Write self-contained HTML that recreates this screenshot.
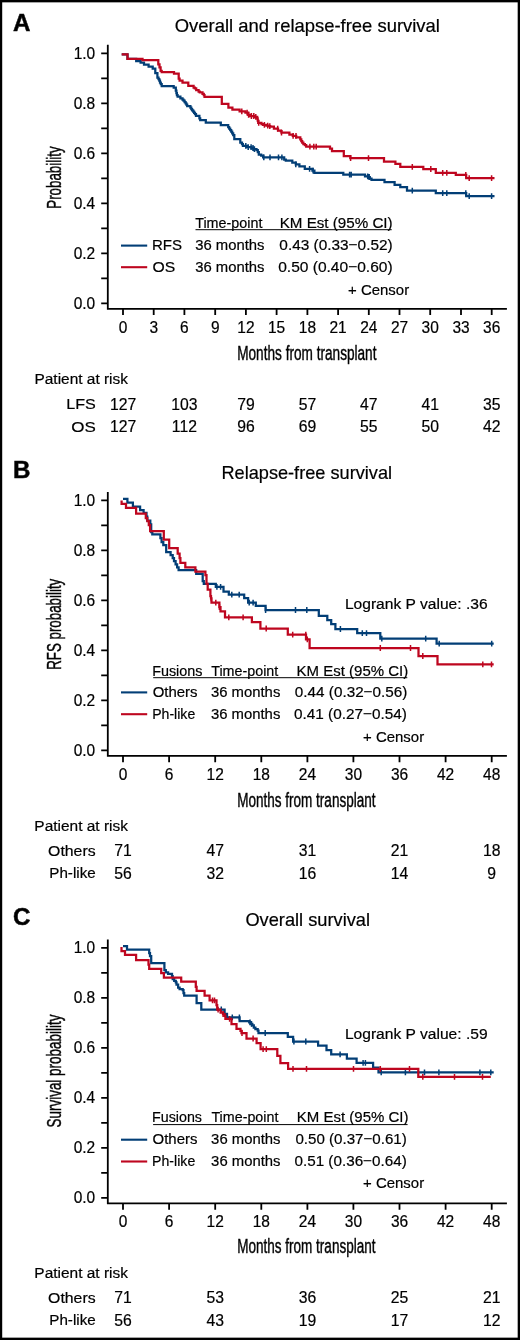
<!DOCTYPE html>
<html><head><meta charset="utf-8"><style>
html,body{margin:0;padding:0;background:#fff;}
body{width:520px;height:1340px;overflow:hidden;}
svg{display:block;font-family:"Liberation Sans", sans-serif;will-change:transform;}
</style></head><body>
<svg width="520" height="1340" viewBox="0 0 520 1340" font-size="15" fill="#000" stroke="#000" stroke-width="0.2">
<rect x="0" y="0" width="520" height="1340" fill="#fff" stroke="none"/>
<text font-size="23" font-weight="bold" stroke="#111" stroke-width="0.5" transform="translate(13 30.7) scale(1.05 1)">A</text>
<text x="174.77" y="31.50" font-size="18.4" textLength="265.13" lengthAdjust="spacingAndGlyphs" >Overall and relapse-free survival</text>
<path d="M107.8 44.8 V309.7 M107 308.8 H506.9" stroke="#000" stroke-width="1.8" fill="none"/>
<path d="M101.2 303.3H107.8 M101.2 278.3H107.8 M101.2 253.3H107.8 M101.2 228.3H107.8 M101.2 203.3H107.8 M101.2 178.3H107.8 M101.2 153.3H107.8 M101.2 128.3H107.8 M101.2 103.3H107.8 M101.2 78.3H107.8 M101.2 53.3H107.8" stroke="#000" stroke-width="1.8" fill="none"/>
<text transform="translate(95.2 308.6) scale(0.975 1)" font-size="15.9" text-anchor="end">0.0</text>
<text transform="translate(95.2 258.6) scale(0.975 1)" font-size="15.9" text-anchor="end">0.2</text>
<text transform="translate(95.2 208.6) scale(0.975 1)" font-size="15.9" text-anchor="end">0.4</text>
<text transform="translate(95.2 158.6) scale(0.975 1)" font-size="15.9" text-anchor="end">0.6</text>
<text transform="translate(95.2 108.6) scale(0.975 1)" font-size="15.9" text-anchor="end">0.8</text>
<text transform="translate(95.2 58.6) scale(0.975 1)" font-size="15.9" text-anchor="end">1.0</text>
<text transform="translate(123.0 332.6) scale(0.975 1)" font-size="15.9" text-anchor="middle">0</text>
<text transform="translate(153.7 332.6) scale(0.975 1)" font-size="15.9" text-anchor="middle">3</text>
<text transform="translate(184.4 332.6) scale(0.975 1)" font-size="15.9" text-anchor="middle">6</text>
<text transform="translate(215.2 332.6) scale(0.975 1)" font-size="15.9" text-anchor="middle">9</text>
<text transform="translate(245.9 332.6) scale(0.975 1)" font-size="15.9" text-anchor="middle">12</text>
<text transform="translate(276.6 332.6) scale(0.975 1)" font-size="15.9" text-anchor="middle">15</text>
<text transform="translate(307.4 332.6) scale(0.975 1)" font-size="15.9" text-anchor="middle">18</text>
<text transform="translate(338.1 332.6) scale(0.975 1)" font-size="15.9" text-anchor="middle">21</text>
<text transform="translate(368.8 332.6) scale(0.975 1)" font-size="15.9" text-anchor="middle">24</text>
<text transform="translate(399.5 332.6) scale(0.975 1)" font-size="15.9" text-anchor="middle">27</text>
<text transform="translate(430.2 332.6) scale(0.975 1)" font-size="15.9" text-anchor="middle">30</text>
<text transform="translate(461.0 332.6) scale(0.975 1)" font-size="15.9" text-anchor="middle">33</text>
<text transform="translate(491.7 332.6) scale(0.975 1)" font-size="15.9" text-anchor="middle">36</text>
<path d="M123.0 308.8V315.1 M153.7 308.8V315.1 M184.4 308.8V315.1 M215.2 308.8V315.1 M245.9 308.8V315.1 M276.6 308.8V315.1 M307.4 308.8V315.1 M338.1 308.8V315.1 M368.8 308.8V315.1 M399.5 308.8V315.1 M430.2 308.8V315.1 M461.0 308.8V315.1 M491.7 308.8V315.1" stroke="#000" stroke-width="1.8" fill="none"/>
<text x="237.21" y="359.50" font-size="19.5" textLength="139.28" lengthAdjust="spacingAndGlyphs" stroke="#111" stroke-width="0.45">Months from transplant</text>
<g transform="translate(60.9 207.7) rotate(-90)"><text x="-1.07" y="0.00" font-size="19.5" textLength="62.32" lengthAdjust="spacingAndGlyphs" stroke="#111" stroke-width="0.45">Probability</text></g>
<text x="195.21" y="227.50" font-size="15.2" textLength="67.18" lengthAdjust="spacingAndGlyphs" >Time-point</text>
<text x="279.69" y="227.50" font-size="15.2" textLength="112.94" lengthAdjust="spacingAndGlyphs" >KM Est (95% CI)</text>
<path d="M195.5 229.7H391.7" stroke="#000" stroke-width="1" fill="none"/>
<path d="M121 245.6H147.2" stroke="#023e76" stroke-width="2.1" fill="none"/>
<text x="152.00" y="249.90" font-size="15.2" textLength="30.08" lengthAdjust="spacingAndGlyphs" >RFS</text>
<text x="195.21" y="249.90" font-size="15.2" textLength="69.31" lengthAdjust="spacingAndGlyphs" >36 months</text>
<text x="279.38" y="249.90" font-size="15.2" textLength="113.27" lengthAdjust="spacingAndGlyphs" >0.43 (0.33−0.52)</text>
<path d="M121 267.2H147.2" stroke="#be061f" stroke-width="2.1" fill="none"/>
<text x="152.49" y="271.60" font-size="15.2" textLength="22.71" lengthAdjust="spacingAndGlyphs" >OS</text>
<text x="195.21" y="271.60" font-size="15.2" textLength="69.31" lengthAdjust="spacingAndGlyphs" >36 months</text>
<text x="278.18" y="271.60" font-size="15.2" textLength="114.48" lengthAdjust="spacingAndGlyphs" >0.50 (0.40−0.60)</text>
<text x="348.05" y="294.60" font-size="15.2" textLength="61.08" lengthAdjust="spacingAndGlyphs" >+ Censor</text>
<text x="34.47" y="384.30" font-size="15.2" textLength="93.51" lengthAdjust="spacingAndGlyphs" >Patient at risk</text>
<text x="66.21" y="409.20" font-size="15.2" textLength="29.58" lengthAdjust="spacingAndGlyphs" >LFS</text>
<text transform="translate(123.0 409.7) scale(0.99 1)" text-anchor="middle" font-size="15.9">127</text>
<text transform="translate(184.4 409.7) scale(0.99 1)" text-anchor="middle" font-size="15.9">103</text>
<text transform="translate(245.9 409.7) scale(0.99 1)" text-anchor="middle" font-size="15.9">79</text>
<text transform="translate(307.4 409.7) scale(0.99 1)" text-anchor="middle" font-size="15.9">57</text>
<text transform="translate(368.8 409.7) scale(0.99 1)" text-anchor="middle" font-size="15.9">47</text>
<text transform="translate(430.2 409.7) scale(0.99 1)" text-anchor="middle" font-size="15.9">41</text>
<text transform="translate(491.7 409.7) scale(0.99 1)" text-anchor="middle" font-size="15.9">35</text>
<text x="71.24" y="431.60" font-size="15.2" textLength="24.53" lengthAdjust="spacingAndGlyphs" >OS</text>
<text transform="translate(123.0 432.1) scale(0.99 1)" text-anchor="middle" font-size="15.9">127</text>
<text transform="translate(184.4 432.1) scale(0.99 1)" text-anchor="middle" font-size="15.9">112</text>
<text transform="translate(245.9 432.1) scale(0.99 1)" text-anchor="middle" font-size="15.9">96</text>
<text transform="translate(307.4 432.1) scale(0.99 1)" text-anchor="middle" font-size="15.9">69</text>
<text transform="translate(368.8 432.1) scale(0.99 1)" text-anchor="middle" font-size="15.9">55</text>
<text transform="translate(430.2 432.1) scale(0.99 1)" text-anchor="middle" font-size="15.9">50</text>
<text transform="translate(491.7 432.1) scale(0.99 1)" text-anchor="middle" font-size="15.9">42</text>
<path d="M121.7 54.3 H127.5 V58.9 H136.2 V61 H140.6 V62.7 H144 V64.6 H148.6 V66.5 H152.7 V68.6 H155.3 V73.2 H157.4 V77.7 H158.5 V79 H159.3 V80.6 H160 V82.7 H160.8 V84 H161.7 V86.2 H173.7 V87.5 H175.8 V90.5 H176.4 V93 H176.9 V95.2 H177.6 V96.5 H180.4 V98.3 H182.5 V99.7 H183.5 V100.6 H184.6 V102 H185.6 V103.3 H186.4 V104.7 H187.2 V106.2 H190.4 V107.7 H191.3 V109 H192.1 V110.4 H193.2 V111.6 H194.1 V112.8 H195 V114.2 H196 V115.8 H199.4 V118.4 H200.2 V120 H205.8 V122.5 H220.8 V125.2 H228.2 V127.1 H229.2 V128.6 H230.2 V130 H231.2 V131.6 H232.2 V133.4 H233.2 V135 H234.3 V139.2 H240.3 V142.5 H242 V144 H242.9 V145.9 H247 V147.2 H251.5 V148 H253.5 V149.2 H256.5 V150 H257.8 V152.1 H258.8 V154.5 H261.2 V155.6 H263.1 V157.3 H284.2 V159.6 H285.8 V160.6 H292.3 V162.7 H295.8 V164.3 H299.4 V166.3 H304.8 V168.8 H312.4 V170.6 H314.4 V172.9 H343.3 V174.6 H365 V176.3 H368.1 V177 H369.8 V178.7 H371.5 V179.8 H384.5 V182 H394.6 V184.9 H400.3 V187.2 H407 V190.6 H435.8 V193.1 H466.2 V196.2 H494.5" fill="none" stroke="#023e76" stroke-width="2.25" stroke-linejoin="miter" stroke-linecap="butt"/>
<path d="M245.8 143.0v5.8 M248.2 144.3v5.8 M251.1 144.3v5.8 M253.0 145.1v5.8 M254.4 146.3v5.8 M263.8 154.4v5.8 M270.0 154.4v5.8 M278.5 154.4v5.8 M281.9 154.4v5.8 M295.8 161.4v5.8 M309.6 165.9v5.8 M313.1 167.7v5.8 M349.6 171.7v5.8 M351.2 171.7v5.8 M367.7 173.4v5.8 M369.2 174.1v5.8 M412.3 187.7v5.8 M442.7 190.2v5.8 M446.8 190.2v5.8 M465.8 190.2v5.8 M469.2 193.3v5.8 M491.6 193.3v5.8" stroke="#023e76" stroke-width="1.5" fill="none"/>

<path d="M121.7 54.3 H127.5 V58.9 H142.5 V60 H158.3 V64.3 H159.5 V67.3 H160.6 V70.8 H161.7 V72.1 H174 V73.5 H178.7 V78.5 H179.6 V80.7 H182.5 V82.7 H188.3 V85.8 H193.6 V87.5 H194.8 V88.3 H196.2 V90 H198.6 V91.5 H199.8 V92.3 H202.5 V93.8 H203.8 V95.2 H204.5 V96.9 H221.8 V103.8 H228.4 V107.7 H232.4 V109.6 H239.6 V111.3 H245.4 V112.6 H248.3 V114.9 H250 V116 H254.8 V116.8 H257.2 V118.3 H257.7 V120.7 H258.2 V122.8 H261.5 V124.2 H263 V124.8 H266.3 V125.6 H268.3 V126.1 H270.2 V126.5 H273.9 V128.7 H278 V130.7 H280.8 V131.2 H281.5 V132.6 H289.4 V134.5 H292.8 V135.9 H296.2 V137.4 H300.3 V139.3 H301.3 V141.2 H302.2 V142.7 H303.4 V144.1 H304.9 V145.2 H306.2 V146.6 H330 V148.6 H332 V151 H343.8 V156.2 H350.3 V158.1 H384 V161.6 H395.4 V163.8 H400.3 V166.9 H423.3 V169 H435.8 V172.8 H455.8 V174.9 H466.2 V178.2 H494.5" fill="none" stroke="#be061f" stroke-width="2.25" stroke-linejoin="miter" stroke-linecap="butt"/>
<path d="M241.8 108.4v5.8 M247.1 109.7v5.8 M248.6 112.0v5.8 M251.4 113.1v5.8 M253.8 113.1v5.8 M255.8 113.9v5.8 M258.7 119.9v5.8 M264.4 121.9v5.8 M267.7 122.7v5.8 M269.8 123.2v5.8 M277.7 125.8v5.8 M281.5 129.7v5.8 M293.1 133.0v5.8 M296.0 133.0v5.8 M309.9 143.7v5.8 M313.8 143.7v5.8 M316.2 143.7v5.8 M350.6 155.2v5.8 M368.5 155.2v5.8 M412.3 164.0v5.8 M430.8 166.1v5.8 M442.7 169.9v5.8 M446.8 169.9v5.8 M465.8 172.0v5.8 M469.2 175.3v5.8 M491.6 175.3v5.8" stroke="#be061f" stroke-width="1.5" fill="none"/>

<text font-size="23" font-weight="bold" stroke="#111" stroke-width="0.5" transform="translate(13 477.8) scale(1.05 1)">B</text>
<text x="221.45" y="478.50" font-size="18.4" textLength="170.59" lengthAdjust="spacingAndGlyphs" >Relapse-free survival</text>
<path d="M107.8 491.9 V756.8 M107 755.9 H506.9" stroke="#000" stroke-width="1.8" fill="none"/>
<path d="M101.2 750.4H107.8 M101.2 725.4H107.8 M101.2 700.4H107.8 M101.2 675.4H107.8 M101.2 650.4H107.8 M101.2 625.4H107.8 M101.2 600.4H107.8 M101.2 575.4H107.8 M101.2 550.4H107.8 M101.2 525.4H107.8 M101.2 500.4H107.8" stroke="#000" stroke-width="1.8" fill="none"/>
<text transform="translate(95.2 755.7) scale(0.975 1)" font-size="15.9" text-anchor="end">0.0</text>
<text transform="translate(95.2 705.7) scale(0.975 1)" font-size="15.9" text-anchor="end">0.2</text>
<text transform="translate(95.2 655.7) scale(0.975 1)" font-size="15.9" text-anchor="end">0.4</text>
<text transform="translate(95.2 605.7) scale(0.975 1)" font-size="15.9" text-anchor="end">0.6</text>
<text transform="translate(95.2 555.7) scale(0.975 1)" font-size="15.9" text-anchor="end">0.8</text>
<text transform="translate(95.2 505.7) scale(0.975 1)" font-size="15.9" text-anchor="end">1.0</text>
<text transform="translate(123.0 779.7) scale(0.975 1)" font-size="15.9" text-anchor="middle">0</text>
<text transform="translate(169.1 779.7) scale(0.975 1)" font-size="15.9" text-anchor="middle">6</text>
<text transform="translate(215.2 779.7) scale(0.975 1)" font-size="15.9" text-anchor="middle">12</text>
<text transform="translate(261.3 779.7) scale(0.975 1)" font-size="15.9" text-anchor="middle">18</text>
<text transform="translate(307.4 779.7) scale(0.975 1)" font-size="15.9" text-anchor="middle">24</text>
<text transform="translate(353.4 779.7) scale(0.975 1)" font-size="15.9" text-anchor="middle">30</text>
<text transform="translate(399.5 779.7) scale(0.975 1)" font-size="15.9" text-anchor="middle">36</text>
<text transform="translate(445.6 779.7) scale(0.975 1)" font-size="15.9" text-anchor="middle">42</text>
<text transform="translate(491.7 779.7) scale(0.975 1)" font-size="15.9" text-anchor="middle">48</text>
<path d="M123.0 755.9V762.2 M169.1 755.9V762.2 M215.2 755.9V762.2 M261.3 755.9V762.2 M307.4 755.9V762.2 M353.4 755.9V762.2 M399.5 755.9V762.2 M445.6 755.9V762.2 M491.7 755.9V762.2" stroke="#000" stroke-width="1.8" fill="none"/>
<text x="237.22" y="806.80" font-size="19.5" textLength="138.27" lengthAdjust="spacingAndGlyphs" stroke="#111" stroke-width="0.45">Months from transplant</text>
<g transform="translate(61.3 668.8) rotate(-90)"><text x="-1.07" y="0.00" font-size="19.5" textLength="91.15" lengthAdjust="spacingAndGlyphs" stroke="#111" stroke-width="0.45">RFS probability</text></g>
<text x="152.15" y="675.50" font-size="15.2" textLength="50.38" lengthAdjust="spacingAndGlyphs" >Fusions</text>
<text x="211.21" y="675.50" font-size="15.2" textLength="67.08" lengthAdjust="spacingAndGlyphs" >Time-point</text>
<text x="296.60" y="675.50" font-size="15.2" textLength="111.61" lengthAdjust="spacingAndGlyphs" >KM Est (95% CI)</text>
<path d="M153.2 677.7H407.3" stroke="#000" stroke-width="1" fill="none"/>
<path d="M121 692.4H147.2" stroke="#023e76" stroke-width="2.1" fill="none"/>
<text x="152.63" y="696.80" font-size="15.2" textLength="44.91" lengthAdjust="spacingAndGlyphs" >Others</text>
<text x="210.91" y="696.80" font-size="15.2" textLength="69.41" lengthAdjust="spacingAndGlyphs" >36 months</text>
<text x="294.89" y="696.80" font-size="15.2" textLength="112.46" lengthAdjust="spacingAndGlyphs" >0.44 (0.32−0.56)</text>
<path d="M121 714.2H147.2" stroke="#be061f" stroke-width="2.1" fill="none"/>
<text x="152.17" y="718.60" font-size="15.2" textLength="43.09" lengthAdjust="spacingAndGlyphs" >Ph-like</text>
<text x="210.91" y="718.60" font-size="15.2" textLength="69.41" lengthAdjust="spacingAndGlyphs" >36 months</text>
<text x="293.99" y="718.60" font-size="15.2" textLength="112.96" lengthAdjust="spacingAndGlyphs" >0.41 (0.27−0.54)</text>
<text x="363.05" y="741.50" font-size="15.2" textLength="61.08" lengthAdjust="spacingAndGlyphs" >+ Censor</text>
<text x="344.95" y="608.60" font-size="15.2" textLength="142.65" lengthAdjust="spacingAndGlyphs" >Logrank P value: .36</text>
<text x="34.36" y="831.30" font-size="15.2" textLength="93.61" lengthAdjust="spacingAndGlyphs" >Patient at risk</text>
<text x="48.09" y="855.80" font-size="15.2" textLength="47.48" lengthAdjust="spacingAndGlyphs" >Others</text>
<text transform="translate(123.0 856.3) scale(0.99 1)" text-anchor="middle" font-size="15.9">71</text>
<text transform="translate(215.2 856.3) scale(0.99 1)" text-anchor="middle" font-size="15.9">47</text>
<text transform="translate(307.4 856.3) scale(0.99 1)" text-anchor="middle" font-size="15.9">31</text>
<text transform="translate(399.5 856.3) scale(0.99 1)" text-anchor="middle" font-size="15.9">21</text>
<text transform="translate(491.7 856.3) scale(0.99 1)" text-anchor="middle" font-size="15.9">18</text>
<text x="49.28" y="878.20" font-size="15.2" textLength="46.43" lengthAdjust="spacingAndGlyphs" >Ph-like</text>
<text transform="translate(123.0 878.7) scale(0.99 1)" text-anchor="middle" font-size="15.9">56</text>
<text transform="translate(215.2 878.7) scale(0.99 1)" text-anchor="middle" font-size="15.9">32</text>
<text transform="translate(307.4 878.7) scale(0.99 1)" text-anchor="middle" font-size="15.9">16</text>
<text transform="translate(399.5 878.7) scale(0.99 1)" text-anchor="middle" font-size="15.9">14</text>
<text transform="translate(491.7 878.7) scale(0.99 1)" text-anchor="middle" font-size="15.9">9</text>
<path d="M123 498.9 H127.4 V502.7 H132.9 V506.7 H140.1 V510.2 H143.6 V512.8 H146.5 V516.5 H147.3 V520.5 H150.3 V524.3 H151.2 V532 H152.3 V534.3 H160.4 V538.2 H161.6 V542 H163.3 V545 H166.2 V552 H170.6 V555 H172.7 V558.2 H174 V561.2 H175.6 V564.3 H177.1 V567.4 H178.6 V570 H196.2 V573.8 H202.7 V581.2 H203.8 V583.8 H215.8 V586.9 H223.5 V591.5 H228.8 V594.6 H244.2 V598.1 H248.1 V602.7 H255.8 V605.8 H265.6 V610 H318.8 V615.8 H327.3 V620 H331.2 V624.2 H335.4 V629 H357.2 V633.1 H380.3 V638.7 H436.6 V643.6 H493.7" fill="none" stroke="#023e76" stroke-width="2.25" stroke-linejoin="miter" stroke-linecap="butt"/>
<path d="M216.9 584.0v5.8 M220.6 584.0v5.8 M231.8 591.7v5.8 M239.2 591.7v5.8 M249.2 599.8v5.8 M253.1 599.8v5.8 M265.6 607.1v5.8 M295.5 607.1v5.8 M306.8 607.1v5.8 M340.4 626.1v5.8 M362.3 630.2v5.8 M366.5 630.2v5.8 M381.8 635.8v5.8 M425.7 635.8v5.8 M439.2 640.7v5.8 M491.7 640.7v5.8" stroke="#023e76" stroke-width="1.5" fill="none"/>

<path d="M121.6 500.4 V503.8 H126 V507.9 H136.1 V513.6 H145.8 V518.2 H147.3 V521.2 H148.8 V525 H150.1 V531.2 H163.8 V539.7 H169.2 V548.2 H177.7 V553.5 H179.6 V558.2 H180.4 V562.8 H185.3 V567.3 H195.4 V571.5 H205.4 V575 H206.5 V583.8 H207.7 V589.6 H210.4 V596 H211 V598.3 H211.5 V602.7 H219.4 V607 H220.5 V611.3 H225 V617.3 H251.9 V622 H260.4 V628.5 H287.8 V634.6 H306 V639.4 H309.6 V648 H418.5 V656 H437.5 V664.3 H493.7" fill="none" stroke="#be061f" stroke-width="2.25" stroke-linejoin="miter" stroke-linecap="butt"/>
<path d="M211.2 595.4v5.8 M215.8 599.8v5.8 M219.4 604.1v5.8 M228.8 614.4v5.8 M243.1 614.4v5.8 M266.2 625.6v5.8 M292.7 631.7v5.8 M305.8 631.7v5.8 M307.3 636.5v5.8 M380.3 645.1v5.8 M410.5 645.1v5.8 M422.8 653.1v5.8 M482.8 661.4v5.8 M491.5 661.4v5.8" stroke="#be061f" stroke-width="1.5" fill="none"/>

<text font-size="23" font-weight="bold" stroke="#111" stroke-width="0.5" transform="translate(13 925.3) scale(1.05 1)">C</text>
<text x="245.38" y="925.80" font-size="18.4" textLength="124.61" lengthAdjust="spacingAndGlyphs" >Overall survival</text>
<path d="M107.8 939.4 V1204.3 M107 1203.4 H506.9" stroke="#000" stroke-width="1.8" fill="none"/>
<path d="M101.2 1197.9H107.8 M101.2 1172.9H107.8 M101.2 1147.9H107.8 M101.2 1122.9H107.8 M101.2 1097.9H107.8 M101.2 1072.9H107.8 M101.2 1047.9H107.8 M101.2 1022.9H107.8 M101.2 997.9H107.8 M101.2 972.9H107.8 M101.2 947.9H107.8" stroke="#000" stroke-width="1.8" fill="none"/>
<text transform="translate(95.2 1203.2) scale(0.975 1)" font-size="15.9" text-anchor="end">0.0</text>
<text transform="translate(95.2 1153.2) scale(0.975 1)" font-size="15.9" text-anchor="end">0.2</text>
<text transform="translate(95.2 1103.2) scale(0.975 1)" font-size="15.9" text-anchor="end">0.4</text>
<text transform="translate(95.2 1053.2) scale(0.975 1)" font-size="15.9" text-anchor="end">0.6</text>
<text transform="translate(95.2 1003.2) scale(0.975 1)" font-size="15.9" text-anchor="end">0.8</text>
<text transform="translate(95.2 953.2) scale(0.975 1)" font-size="15.9" text-anchor="end">1.0</text>
<text transform="translate(123.0 1227.2) scale(0.975 1)" font-size="15.9" text-anchor="middle">0</text>
<text transform="translate(169.1 1227.2) scale(0.975 1)" font-size="15.9" text-anchor="middle">6</text>
<text transform="translate(215.2 1227.2) scale(0.975 1)" font-size="15.9" text-anchor="middle">12</text>
<text transform="translate(261.3 1227.2) scale(0.975 1)" font-size="15.9" text-anchor="middle">18</text>
<text transform="translate(307.4 1227.2) scale(0.975 1)" font-size="15.9" text-anchor="middle">24</text>
<text transform="translate(353.4 1227.2) scale(0.975 1)" font-size="15.9" text-anchor="middle">30</text>
<text transform="translate(399.5 1227.2) scale(0.975 1)" font-size="15.9" text-anchor="middle">36</text>
<text transform="translate(445.6 1227.2) scale(0.975 1)" font-size="15.9" text-anchor="middle">42</text>
<text transform="translate(491.7 1227.2) scale(0.975 1)" font-size="15.9" text-anchor="middle">48</text>
<path d="M123.0 1203.4V1209.7 M169.1 1203.4V1209.7 M215.2 1203.4V1209.7 M261.3 1203.4V1209.7 M307.4 1203.4V1209.7 M353.4 1203.4V1209.7 M399.5 1203.4V1209.7 M445.6 1203.4V1209.7 M491.7 1203.4V1209.7" stroke="#000" stroke-width="1.8" fill="none"/>
<text x="237.22" y="1253.30" font-size="19.5" textLength="138.27" lengthAdjust="spacingAndGlyphs" stroke="#111" stroke-width="0.45">Months from transplant</text>
<g transform="translate(61.2 1126.9) rotate(-90)"><text x="-0.61" y="0.00" font-size="19.5" textLength="112.94" lengthAdjust="spacingAndGlyphs" stroke="#111" stroke-width="0.45">Survival probability</text></g>
<text x="152.06" y="1122.40" font-size="15.2" textLength="49.96" lengthAdjust="spacingAndGlyphs" >Fusions</text>
<text x="211.41" y="1122.40" font-size="15.2" textLength="66.98" lengthAdjust="spacingAndGlyphs" >Time-point</text>
<text x="296.80" y="1122.40" font-size="15.2" textLength="111.71" lengthAdjust="spacingAndGlyphs" >KM Est (95% CI)</text>
<path d="M153.1 1124.6H407.6" stroke="#000" stroke-width="1" fill="none"/>
<path d="M121 1139.7H147.2" stroke="#023e76" stroke-width="2.1" fill="none"/>
<text x="152.53" y="1144.00" font-size="15.2" textLength="44.91" lengthAdjust="spacingAndGlyphs" >Others</text>
<text x="211.11" y="1144.00" font-size="15.2" textLength="69.41" lengthAdjust="spacingAndGlyphs" >36 months</text>
<text x="295.40" y="1144.00" font-size="15.2" textLength="111.34" lengthAdjust="spacingAndGlyphs" >0.50 (0.37−0.61)</text>
<path d="M121 1161.5H147.2" stroke="#be061f" stroke-width="2.1" fill="none"/>
<text x="152.07" y="1165.80" font-size="15.2" textLength="43.19" lengthAdjust="spacingAndGlyphs" >Ph-like</text>
<text x="211.11" y="1165.80" font-size="15.2" textLength="69.41" lengthAdjust="spacingAndGlyphs" >36 months</text>
<text x="294.49" y="1165.80" font-size="15.2" textLength="112.25" lengthAdjust="spacingAndGlyphs" >0.51 (0.36−0.64)</text>
<text x="363.05" y="1188.40" font-size="15.2" textLength="61.08" lengthAdjust="spacingAndGlyphs" >+ Censor</text>
<text x="344.95" y="1038.50" font-size="15.2" textLength="142.65" lengthAdjust="spacingAndGlyphs" >Logrank P value: .59</text>
<text x="34.36" y="1278.30" font-size="15.2" textLength="93.61" lengthAdjust="spacingAndGlyphs" >Patient at risk</text>
<text x="48.09" y="1302.90" font-size="15.2" textLength="47.48" lengthAdjust="spacingAndGlyphs" >Others</text>
<text transform="translate(123.0 1303.4) scale(0.99 1)" text-anchor="middle" font-size="15.9">71</text>
<text transform="translate(215.2 1303.4) scale(0.99 1)" text-anchor="middle" font-size="15.9">53</text>
<text transform="translate(307.4 1303.4) scale(0.99 1)" text-anchor="middle" font-size="15.9">36</text>
<text transform="translate(399.5 1303.4) scale(0.99 1)" text-anchor="middle" font-size="15.9">25</text>
<text transform="translate(491.7 1303.4) scale(0.99 1)" text-anchor="middle" font-size="15.9">21</text>
<text x="49.28" y="1325.00" font-size="15.2" textLength="46.43" lengthAdjust="spacingAndGlyphs" >Ph-like</text>
<text transform="translate(123.0 1325.5) scale(0.99 1)" text-anchor="middle" font-size="15.9">56</text>
<text transform="translate(215.2 1325.5) scale(0.99 1)" text-anchor="middle" font-size="15.9">43</text>
<text transform="translate(307.4 1325.5) scale(0.99 1)" text-anchor="middle" font-size="15.9">19</text>
<text transform="translate(399.5 1325.5) scale(0.99 1)" text-anchor="middle" font-size="15.9">17</text>
<text transform="translate(491.7 1325.5) scale(0.99 1)" text-anchor="middle" font-size="15.9">12</text>
<path d="M123 946.2 H127 V949.5 H149.2 V953.1 H150 V956 H151.2 V963.1 H164.4 V970 H165.8 V972.3 H168.1 V973.8 H172 V976.2 H172.7 V979.2 H174.2 V980.8 H175.8 V982.3 H176.5 V984.6 H178.1 V987.7 H179.6 V989.2 H182.7 V990.2 H183.5 V993.1 H184.2 V995.5 H196.6 V1003.1 H201.3 V1009.5 H224.6 V1013.8 H227 V1017.3 H239.6 V1021 H249.2 V1022.3 H250.8 V1023.8 H252.3 V1025.4 H253.8 V1027.7 H255.4 V1029.2 H257.7 V1030.5 H258.5 V1033 H287.8 V1036.9 H293.1 V1041.5 H318.1 V1045.7 H326.5 V1050 H331.2 V1054.4 H346.9 V1058.5 H356.6 V1062.8 H373.1 V1067.7 H378.5 V1072.4 H493.7" fill="none" stroke="#023e76" stroke-width="2.25" stroke-linejoin="miter" stroke-linecap="butt"/>
<path d="M221.3 1006.6v5.8 M232.3 1014.4v5.8 M239.4 1014.4v5.8 M250.0 1019.4v5.8 M251.5 1020.9v5.8 M265.2 1030.1v5.8 M293.9 1038.6v5.8 M305.8 1038.6v5.8 M340.1 1051.5v5.8 M363.1 1059.9v5.8 M365.4 1059.9v5.8 M381.2 1069.5v5.8 M405.4 1069.5v5.8 M424.5 1069.5v5.8 M438.9 1069.5v5.8 M479.9 1069.5v5.8 M490.8 1069.5v5.8" stroke="#023e76" stroke-width="1.5" fill="none"/>

<path d="M121.5 946.9 V951.1 H125 V954.9 H136.1 V960 H148.5 V964.6 H149.2 V968.9 H161.2 V973.1 H163.9 V977.7 H181.2 V981.7 H195.8 V986.9 H196.6 V990.8 H204.6 V995.6 H209.6 V1000.3 H216.5 V1005 H217.2 V1009.6 H220.6 V1012.7 H223 V1014 H224.6 V1015.8 H225.4 V1018.8 H231.5 V1024.2 H236.5 V1028.9 H240.5 V1030.8 H241.5 V1033 H246.5 V1038.5 H256.6 V1043.1 H260.6 V1049.2 H277.3 V1055.8 H280.4 V1063.1 H288.1 V1068.8 H418.3 V1076.8 H490.8" fill="none" stroke="#be061f" stroke-width="2.25" stroke-linejoin="miter" stroke-linecap="butt"/>
<path d="M212.5 997.4v5.8 M214.5 997.4v5.8 M218.1 1006.7v5.8 M223.1 1011.1v5.8 M229.6 1015.9v5.8 M242.0 1030.1v5.8 M253.1 1035.6v5.8 M263.1 1046.3v5.8 M266.3 1046.3v5.8 M293.0 1065.9v5.8 M306.5 1065.9v5.8 M353.5 1065.9v5.8 M380.3 1065.9v5.8 M409.5 1065.9v5.8 M422.8 1073.9v5.8 M454.5 1073.9v5.8 M482.5 1073.9v5.8" stroke="#be061f" stroke-width="1.5" fill="none"/>

<path d="M0 0H520V2.2H0Z M0 1337.8H520V1340H0Z M0 0H2.1V1340H0Z M517.8 0H520V1340H517.8Z" fill="#000"/>
</svg>
</body></html>
